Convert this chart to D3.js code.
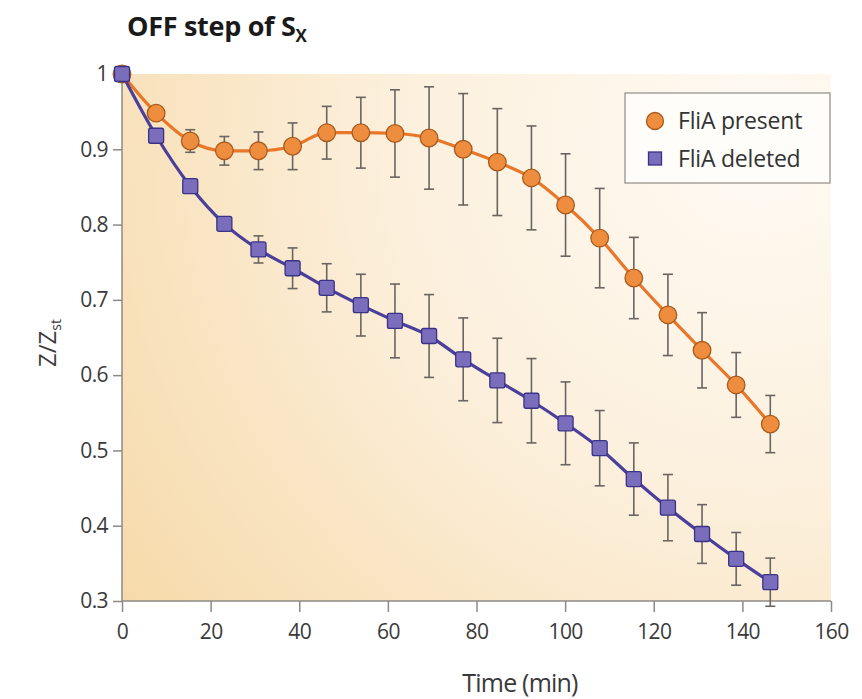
<!DOCTYPE html>
<html>
<head>
<meta charset="utf-8">
<script src="https://cdn.jsdelivr.net/npm/d3@7"></script>
<style>
  body { margin: 0; background: #fff; }
  svg { display: block; font-family: "Open Sans", sans-serif; }
</style>
</head>
<body>
<svg></svg>
<script>
const width = 709
const height = 527
const marginTop = 74
const marginLeft = 122

// time points (min)
const times = [0, 7.7, 15.4, 23.1, 30.8, 38.5, 46.2, 53.9, 61.6, 69.3, 77.0, 84.7, 92.4, 100.1, 107.8, 115.5, 123.2, 130.9, 138.6, 146.3]
const present = [1.0, 0.948, 0.911, 0.898, 0.898, 0.904, 0.922, 0.922, 0.921, 0.915, 0.900, 0.883, 0.862, 0.826, 0.782, 0.729, 0.680, 0.633, 0.587, 0.535]
const presentErr = [0, 0, 0.015, 0.019, 0.025, 0.031, 0.035, 0.047, 0.058, 0.068, 0.074, 0.071, 0.069, 0.068, 0.066, 0.054, 0.054, 0.050, 0.043, 0.038]
const deleted = [1.0, 0.918, 0.851, 0.801, 0.767, 0.742, 0.716, 0.693, 0.672, 0.652, 0.621, 0.593, 0.566, 0.536, 0.503, 0.462, 0.424, 0.389, 0.356, 0.325]
const deletedErr = [0, 0, 0, 0, 0.018, 0.027, 0.032, 0.041, 0.049, 0.055, 0.055, 0.056, 0.056, 0.055, 0.050, 0.048, 0.044, 0.039, 0.035, 0.032]
const xTicks = [0, 20, 40, 60, 80, 100, 120, 140, 160]
const yTicks = [0.3, 0.4, 0.5, 0.6, 0.7, 0.8, 0.9, 1]
const seriesNames = ["FliA present", "FliA deleted"]

const orange = { line: "#e8772a", fill: "#ee8d3e", stroke: "#a95b1f" }
const purple = { line: "#4a3f9b", fill: "#7a6dbb", stroke: "#3a3287" }

const svg = d3.select("svg")
    .attr("width", 862)
    .attr("height", 699)

const defs = svg.append("defs")
const grad = defs.append("radialGradient")
    .attr("id", "bg")
    .attr("gradientUnits", "userSpaceOnUse")
    .attr("cx", 760).attr("cy", 140).attr("r", 800)
grad.append("stop").attr("offset", 0).attr("stop-color", "#fefaf3")
grad.append("stop").attr("offset", 0.45).attr("stop-color", "#fcf0dd")
grad.append("stop").attr("offset", 1).attr("stop-color", "#f6d9a8")

const xScale = d3.scaleLinear().domain([0, 160]).range([0, width])
const yScale = d3.scaleLinear().domain([0.3, 1]).range([height, 0])

svg.append("rect")
    .attr("x", marginLeft)
    .attr("y", marginTop)
    .attr("width", width)
    .attr("height", height)
    .attr("fill", "url(#bg)")

const g = svg.append("g")
    .attr("transform", `translate(${marginLeft}, ${marginTop})`)

const xAxis = d3.axisBottom(xScale).tickValues(xTicks).tickSize(11).tickPadding(12).tickFormat(d => d)
const yAxis = d3.axisLeft(yScale).tickValues(yTicks).tickSize(9).tickPadding(5).tickFormat(d => d)

const gx = g.append("g")
    .attr("transform", `translate(0, ${height})`)
    .call(xAxis)
const gy = g.append("g").call(yAxis)

for (const ax of [gx, gy]) {
    ax.select(".domain").attr("stroke", "#8d8a86").attr("stroke-width", 1.5)
    ax.selectAll(".tick line").attr("stroke", "#8d8a86").attr("stroke-width", 1.5)
    ax.selectAll(".tick text")
        .attr("fill", "#3a3a3a")
        .style("font-size", "21px")
        .style("font-family", "'Open Sans', sans-serif")
        .style("letter-spacing", "-0.6px")
}
gx.select(".domain").attr("d", `M0,0H${width}`)
gy.select(".domain").attr("d", `M0,0V${height}`)

// error bars
const drawErrors = (vals, errs) => {
    const eg = g.append("g").attr("stroke", "#6a6560").attr("stroke-width", 1.6).attr("fill", "none")
    times.forEach((t, i) => {
        if (errs[i] <= 0) return
        const x = xScale(t)
        const y1 = yScale(vals[i] + errs[i])
        const y2 = yScale(vals[i] - errs[i])
        eg.append("line").attr("x1", x).attr("x2", x).attr("y1", y1).attr("y2", y2)
        eg.append("line").attr("x1", x - 5).attr("x2", x + 5).attr("y1", y1).attr("y2", y1)
        eg.append("line").attr("x1", x - 5).attr("x2", x + 5).attr("y1", y2).attr("y2", y2)
    })
}
drawErrors(present, presentErr)
drawErrors(deleted, deletedErr)

const line = d3.line()
    .x(d => xScale(d[0]))
    .y(d => yScale(d[1]))
    .curve(d3.curveMonotoneX)

const presentPts = times.map((t, i) => [t, present[i]])
const deletedPts = times.map((t, i) => [t, deleted[i]])

g.append("path")
    .datum(presentPts)
    .attr("d", line)
    .attr("fill", "none")
    .attr("stroke", orange.line)
    .attr("stroke-width", 3.2)

g.append("path")
    .datum(deletedPts)
    .attr("d", line)
    .attr("fill", "none")
    .attr("stroke", purple.line)
    .attr("stroke-width", 3.2)

g.selectAll(".pt-present")
    .data(presentPts)
    .enter()
    .append("circle")
    .attr("class", "pt-present")
    .attr("cx", d => xScale(d[0]))
    .attr("cy", d => yScale(d[1]))
    .attr("r", 8.8)
    .attr("fill", orange.fill)
    .attr("stroke", orange.stroke)
    .attr("stroke-width", 1.3)

g.selectAll(".pt-deleted")
    .data(deletedPts)
    .enter()
    .append("rect")
    .attr("class", "pt-deleted")
    .attr("x", d => xScale(d[0]) - 7.5)
    .attr("y", d => yScale(d[1]) - 7.5)
    .attr("width", 15)
    .attr("height", 15)
    .attr("rx", 2)
    .attr("fill", purple.fill)
    .attr("stroke", purple.stroke)
    .attr("stroke-width", 1.3)

// legend
const legend = svg.append("g").attr("transform", "translate(625, 93)")
legend.append("rect")
    .attr("width", 205)
    .attr("height", 90)
    .attr("fill", "#fffdf9")
    .attr("stroke", "#8f8c88")
    .attr("stroke-width", 1.2)
legend.append("circle")
    .attr("cx", 30).attr("cy", 28).attr("r", 8.5)
    .attr("fill", orange.fill).attr("stroke", orange.stroke).attr("stroke-width", 1.3)
legend.append("rect")
    .attr("x", 23.5).attr("y", 59).attr("width", 13).attr("height", 13)
    .attr("fill", purple.fill).attr("stroke", purple.stroke).attr("stroke-width", 1.3)
legend.selectAll(".lbl")
    .data(seriesNames)
    .enter()
    .append("text")
    .attr("x", 53)
    .attr("y", (d, i) => 36 + i * 38)
    .text(d => d)
    .attr("fill", "#333")
    .style("font-size", "23px")
    .style("letter-spacing", "-0.2px")

// title
const title = svg.append("text")
    .attr("x", 127)
    .attr("y", 36)
    .attr("fill", "#1a1a1a")
    .style("font-size", "27px")
    .style("font-weight", "bold")
    .style("letter-spacing", "-0.3px")
title.append("tspan").text("OFF step of S")
title.append("tspan").text("X").attr("dy", 6).style("font-size", "17px")

// axis titles
svg.append("text")
    .attr("x", 520)
    .attr("y", 692)
    .attr("text-anchor", "middle")
    .attr("fill", "#3a3a3a")
    .style("font-size", "25px")
    .style("letter-spacing", "-0.8px")
    .text("Time (min)")

const ylab = svg.append("text")
    .attr("transform", "translate(56, 343) rotate(-90)")
    .attr("text-anchor", "middle")
    .attr("fill", "#3a3a3a")
    .style("font-size", "24px")
ylab.append("tspan").text("Z/Z")
ylab.append("tspan").text("st").attr("dy", 5).style("font-size", "14px")
</script>
</body>
</html>
